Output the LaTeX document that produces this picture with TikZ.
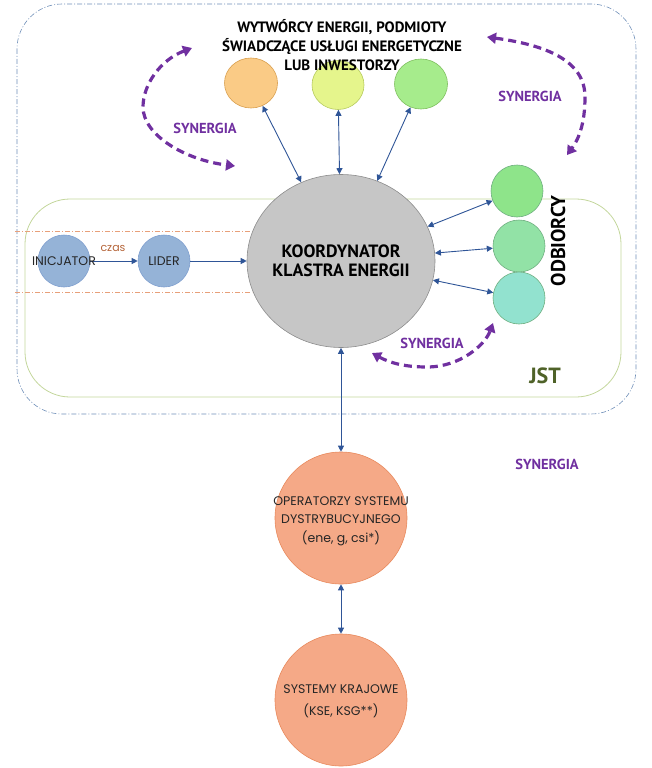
\documentclass[tikz,border=0pt]{standalone}
\usepackage{fontspec}
\setmainfont{Poppins}
\newfontfamily\hfont{PT Sans}
\usetikzlibrary{arrows.meta,shapes.geometric}
\definecolor{outerc}{HTML}{6F8FB8}
\definecolor{jstc}{HTML}{C3D69B}
\definecolor{orlinec}{HTML}{E8A07A}
\definecolor{arrowblue}{HTML}{2F5597}
\definecolor{synpurple}{HTML}{7030A0}
\definecolor{jstgreen}{HTML}{4F6228}
\definecolor{czasc}{HTML}{B5653A}
\definecolor{orfill}{HTML}{FACB86}\definecolor{ordraw}{HTML}{D9A050}
\definecolor{yefill}{HTML}{E5F58C}\definecolor{yedraw}{HTML}{B8CC60}
\definecolor{grfill}{HTML}{A6EC8C}\definecolor{grdraw}{HTML}{80C060}
\definecolor{odafill}{HTML}{8EE48A}
\definecolor{odbfill}{HTML}{92E2A6}
\definecolor{odcfill}{HTML}{92E2CF}
\definecolor{oddraw}{HTML}{6FAF80}
\definecolor{gyfill}{HTML}{C6C6C6}\definecolor{gydraw}{HTML}{8C8C8C}
\definecolor{blfill}{HTML}{95B3D7}\definecolor{bldraw}{HTML}{7F9FCF}
\definecolor{safill}{HTML}{F5A987}\definecolor{sadraw}{HTML}{E8895C}
\tikzset{
  circ/.style={circle, line width=0.6pt, inner sep=0pt, minimum size=52pt},
  ell/.style={ellipse, line width=0.6pt, inner sep=0pt},
  barrow/.style={draw=arrowblue, line width=0.9pt, arrows={Triangle[length=6pt,width=6pt]-Triangle[length=6pt,width=6pt]}},
  barrowone/.style={draw=arrowblue, line width=0.9pt, arrows={-Triangle[length=6pt,width=6pt]}},
  synarrow/.style={draw=synpurple, line width=3.2pt, dash pattern=on 8pt off 5pt, arrows={Triangle[length=9pt,width=11pt]-Triangle[length=9pt,width=11pt]}},
  syntext/.style={text=synpurple, font=\hfont\bfseries\fontsize{14.5}{16}\selectfont},
  headtext/.style={font=\hfont\bfseries\fontsize{15}{19}\selectfont, align=center},
  smalltext/.style={font=\fontsize{12.5}{18.5}\selectfont, align=center, text=black!85}
}
\begin{document}
\begin{tikzpicture}[x=1pt,y=-1pt]
\useasboundingbox (0,0) rectangle (652,768);
% frames
\draw[outerc, line width=0.6pt, dash pattern=on 5pt off 2pt on 1pt off 2pt, rounded corners=45pt] (17,4) rectangle (636,414);
\draw[jstc, line width=0.8pt, rounded corners=45pt] (25,199) rectangle (621,397);
\draw[orlinec, line width=0.8pt, dash pattern=on 5pt off 2pt on 1pt off 2pt] (15,231) -- (252,231);
\draw[orlinec, line width=0.8pt, dash pattern=on 5pt off 2pt on 1pt off 2pt] (15,292) -- (252,292);
% circles
\node[ell, fill=orfill, draw=ordraw, minimum width=53pt, minimum height=50pt] (o1) at (251,83) {};
\node[ell, fill=yefill, draw=yedraw, minimum width=52pt, minimum height=49pt] (y1) at (338,85) {};
\node[ell, fill=grfill, draw=grdraw, minimum width=53pt, minimum height=50pt] (g1) at (421,84) {};
\node[ell, fill=gyfill, draw=gydraw, minimum width=188pt, minimum height=173pt] (koord) at (341,261) {};
\node[circ, fill=odafill, draw=oddraw] (od1) at (517,191) {};
\node[circ, fill=odbfill, draw=oddraw] (od2) at (519,246) {};
\node[circ, fill=odcfill, draw=oddraw] (od3) at (519,298) {};
\node[circ, fill=blfill, draw=bldraw] (inic) at (64,261) {};
\node[circ, fill=blfill, draw=bldraw] (lider) at (164,261) {};
\node[circ, fill=safill, draw=sadraw, minimum size=132pt] (osd) at (341,518) {};
\node[circ, fill=safill, draw=sadraw, minimum size=132pt] (sk) at (341,700) {};
% blue connectors
\draw[barrow] (o1) -- (koord);
\draw[barrow] (y1) -- (koord);
\draw[barrow] (g1) -- (koord);
\draw[barrow] (koord) -- (od1);
\draw[barrow] (koord) -- (od2);
\draw[barrow] (koord) -- (od3);
\draw[barrowone] (inic) -- (lider);
\draw[barrowone] (lider) -- (koord);
\draw[barrow] (koord) -- (osd);
\draw[barrow] (osd) -- (sk);
% synergy arcs
\coordinate (la) at (192,48); \coordinate (lb) at (235,166);
\coordinate (ra) at (487,37); \coordinate (rb) at (567,155);
\coordinate (ba) at (372,353); \coordinate (bb) at (493,323);
\draw[synarrow] (la) .. controls (160,60) and (143,85) .. (143,107) .. controls (143,135) and (185,160) .. (lb);
\draw[synarrow] (ra) .. controls (545,45) and (585,60) .. (585,97) .. controls (585,125) and (578,140) .. (rb);
\draw[synarrow] (ba) .. controls (390,363) and (405,367) .. (427,367) .. controls (460,367) and (485,345) .. (bb);
% texts
\node[headtext] (head) at (342,45) {WYTWÓRCY ENERGII, PODMIOTY\\ŚWIADCZĄCE USŁUGI ENERGETYCZNE\\LUB INWESTORZY};
\node[font=\hfont\bfseries\fontsize{17.8}{19}\selectfont, align=center] (ktext) at (koord) {KOORDYNATOR\\KLASTRA ENERGII};
\node[font=\hfont\bfseries\fontsize{20}{22}\selectfont, rotate=90] (odtext) at (558,241) {ODBIORCY};
\node[font=\hfont\bfseries\fontsize{22}{24}\selectfont, text=jstgreen] (jst) at (545,376) {JST};
\node[syntext] (s1) at (205,128) {SYNERGIA};
\node[syntext] (s2) at (530,96) {SYNERGIA};
\node[syntext] (s3) at (432,343) {SYNERGIA};
\node[syntext] (s4) at (547,464) {SYNERGIA};
\node[font=\fontsize{12.5}{14}\selectfont, text=black!85] (inictext) at (inic) {INICJATOR};
\node[font=\fontsize{12.5}{14}\selectfont, text=black!85] (lidertext) at (lider) {LIDER};
\node[font=\fontsize{11}{12}\selectfont, text=czasc] (czas) at (113,248) {czas};
\node[smalltext] (osdtext) at (341,521) {OPERATORZY SYSTEMU\\DYSTRYBUCYJNEGO\\(ene, g, csi*)};
\node[smalltext, font=\fontsize{12.5}{22}\selectfont] (sktext) at (341,701) {SYSTEMY KRAJOWE\\(KSE, KSG**)};
\end{tikzpicture}
\end{document}
